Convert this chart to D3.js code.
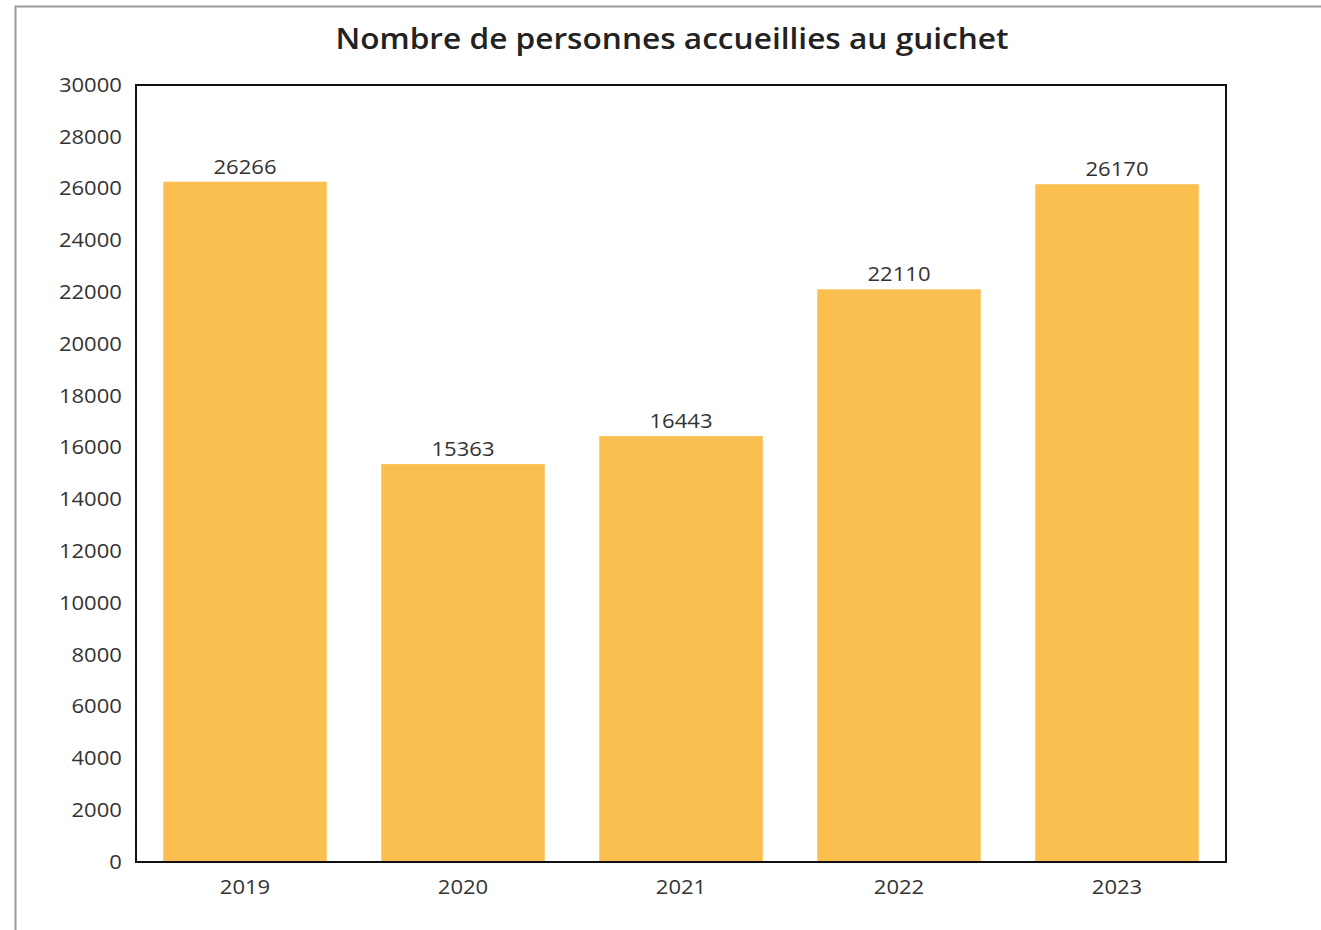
<!DOCTYPE html>
<html>
<head>
<meta charset="utf-8">
<script src="https://cdn.jsdelivr.net/npm/d3@7"></script>
<style>
  body { margin: 0; background: #fff; }
  svg { display: block; font-family: "Open Sans", sans-serif; }
</style>
</head>
<body>
<svg id="chart"></svg>
<script>
const years = ['2019', '2020', '2021', '2022', '2023']
const visitors = [26266, 15363, 16443, 22110, 26170]
const yTicks = [0, 2000, 4000, 6000, 8000, 10000, 12000, 14000, 16000, 18000, 20000, 22000, 24000, 26000, 28000, 30000]

const width = 1321
const height = 930
const margin = { top: 85, right: 95, bottom: 68, left: 136 }
const stretch = 1.13 // the source text is a little wider than Open Sans

const svg = d3.select('#chart')
  .attr('width', width)
  .attr('height', height)

// outer frame (only top and left edges visible in the picture)
svg.append('rect')
  .attr('x', 15.5).attr('y', 6.5)
  .attr('width', width).attr('height', height)
  .attr('fill', 'none')
  .attr('stroke', '#9a9a9a')
  .attr('stroke-width', 2)

const x = d3.scaleBand()
  .domain(years)
  .range([margin.left, width - margin.right])
  .paddingInner(0.25)
  .paddingOuter(0.125)

const y = d3.scaleLinear()
  .domain([0, 30000])
  .range([height - margin.bottom, margin.top])

// bars
svg.append('g')
  .selectAll('rect')
  .data(years)
  .join('rect')
    .attr('x', d => x(d))
    .attr('y', (d, i) => y(visitors[i]))
    .attr('width', x.bandwidth())
    .attr('height', (d, i) => y(0) - y(visitors[i]))
    .attr('fill', '#fbbf4f')

// value labels
svg.append('g')
  .selectAll('text')
  .data(years)
  .join('text')
    .attr('transform', (d, i) => `translate(${x(d) + x.bandwidth() / 2},${y(visitors[i]) - 8}) scale(${stretch},1)`)
    .attr('text-anchor', 'middle')
    .attr('font-size', 19.5)
    .attr('fill', '#333')
    .text((d, i) => visitors[i])

// axes
const yAxis = svg.append('g')
  .attr('transform', `translate(${margin.left},0)`)
  .call(d3.axisLeft(y).tickValues(yTicks).tickSize(0).tickPadding(12.5).tickFormat(d3.format('d')))
yAxis.select('.domain').remove()
yAxis.selectAll('text')
  .attr('transform', `scale(${stretch},1)`)
  .attr('font-size', 19.5).attr('fill', '#333').attr('font-family', '"Open Sans", sans-serif')

const xAxis = svg.append('g')
  .attr('transform', `translate(0,${height - margin.bottom})`)
  .call(d3.axisBottom(x).tickSize(0).tickPadding(18))
xAxis.select('.domain').remove()
xAxis.selectAll('text')
  .attr('transform', `scale(${stretch},1)`)
  .attr('font-size', 19.5).attr('fill', '#333').attr('font-family', '"Open Sans", sans-serif')

// plot frame
svg.append('rect')
  .attr('x', margin.left)
  .attr('y', margin.top)
  .attr('width', width - margin.right - margin.left)
  .attr('height', height - margin.bottom - margin.top)
  .attr('fill', 'none')
  .attr('stroke', '#111')
  .attr('stroke-width', 2)

// title
svg.append('text')
  .attr('transform', `translate(672,49) scale(${stretch},1)`)
  .attr('text-anchor', 'middle')
  .attr('font-size', 28)
  .attr('font-weight', 600)
  .attr('fill', '#222')
  .text('Nombre de personnes accueillies au guichet')
</script>
</body>
</html>
